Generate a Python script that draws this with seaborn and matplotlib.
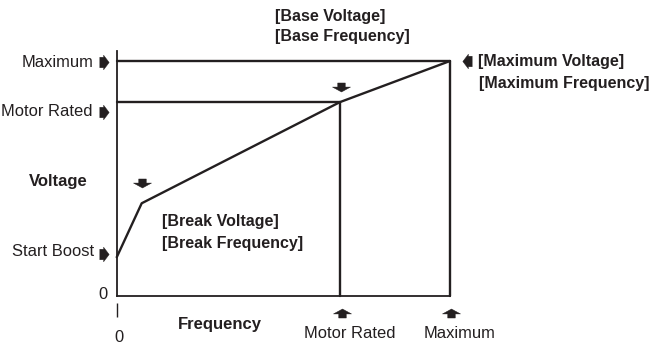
import matplotlib
matplotlib.use("Agg")
import matplotlib.pyplot as plt
from matplotlib import font_manager
from matplotlib.path import Path
from matplotlib.transforms import offset_copy
import pandas as pd
import seaborn as sns

# Volts-per-hertz profile, expressed in percent of the maximum settings
frequency = [0.0, 7.5, 67.0, 100.0]        # start, break, base (motor rated), maximum
voltage = [16.4, 39.4, 82.5, 100.0]        # start boost, break, base (motor rated), maximum
rated_freq, max_freq = frequency[2], frequency[3]
rated_volt, max_volt = voltage[2], voltage[3]
start_boost, break_freq, break_volt = voltage[0], frequency[1], voltage[1]

volt_labels = ["Maximum", "Motor Rated", "Start Boost", "0"]
freq_labels = ["0", "Motor Rated", "Maximum"]
base_text = ["[Base Voltage]", "[Base Frequency]"]
break_text = ["[Break Voltage]", "[Break Frequency]"]
max_text = ["[Maximum Voltage]", "[Maximum Frequency]"]

INK = "#231f20"

sns.set_style("white")
installed = {f.name for f in font_manager.fontManager.ttflist}
if "Liberation Sans Narrow" in installed:
    label_family, label_size, note_size = "Liberation Sans Narrow", 13.4, 13.3
else:
    label_family, label_size, note_size = "Liberation Sans", 11.9, 11.5
plt.rcParams["font.family"] = ["Liberation Sans", "DejaVu Sans"]

fig = plt.figure(figsize=(6.55, 3.44), dpi=100)
ax = fig.add_axes([0.1782, 0.1404, 0.5084, 0.7113])

profile = pd.DataFrame({"Frequency": frequency, "Voltage": voltage})
sns.lineplot(data=profile, x="Frequency", y="Voltage", ax=ax, color=INK,
             lw=1.7, sort=False, clip_on=False)

# reference lines for the rated and maximum settings
ax.plot([0, max_freq], [max_volt, max_volt], color=INK, lw=1.7, clip_on=False)
ax.plot([0, rated_freq], [rated_volt, rated_volt], color=INK, lw=1.7, clip_on=False)
ax.plot([rated_freq, rated_freq], [0, rated_volt], color=INK, lw=1.7, clip_on=False)
ax.plot([max_freq, max_freq], [0, max_volt], color=INK, lw=1.7, clip_on=False)

ax.set_xlim(0, 100)
ax.set_ylim(0, 104.3)
ax.set_xticks([])
ax.set_yticks([])
for side in ("top", "right"):
    ax.spines[side].set_visible(False)
for side in ("left", "bottom"):
    ax.spines[side].set_color(INK)
    ax.spines[side].set_linewidth(1.3)

ax.set_ylabel("Voltage", rotation=0, fontsize=12, fontweight="bold", color=INK,
              ha="center", va="center")
ax.yaxis.set_label_coords(-0.176, 0.465)
ax.set_xlabel("Frequency", fontsize=12, fontweight="bold", color=INK,
              ha="center", va="center")
ax.xaxis.set_label_coords(0.310, -0.118)

# block arrow marker shapes
def arrow_path(direction):
    pts = {
        "right": [(-0.64, 0.72), (-0.12, 0.72), (-0.12, 1.0), (0.64, 0.0),
                  (-0.12, -1.0), (-0.12, -0.72), (-0.64, -0.72)],
        "down": [(-0.42, 0.5), (0.42, 0.5), (0.42, 0.05), (1.0, 0.05),
                 (0.0, -0.5), (-1.0, 0.05), (-0.42, 0.05)],
    }
    if direction in pts:
        v = pts[direction]
    elif direction == "left":
        v = [(-x, y) for x, y in pts["right"]]
    else:
        v = [(x, -y) for x, y in pts["down"]]
    v = v + [v[0]]
    codes = [Path.MOVETO] + [Path.LINETO] * (len(v) - 2) + [Path.CLOSEPOLY]
    return Path(v, codes)

def arrow(x, y, trans, dx, dy, direction, size):
    t = offset_copy(trans, fig=fig, x=dx, y=dy, units="dots")
    ax.plot([x], [y], marker=arrow_path(direction), ms=size, color=INK,
            mew=0.3, mec=INK, transform=t, clip_on=False)

def label(text, x, y, trans, dx, dy, size, ha, weight="normal", family=None):
    ax.annotate(text, xy=(x, y), xycoords=trans, xytext=(dx, dy),
                textcoords="offset pixels", ha=ha, va="center",
                fontsize=size, fontweight=weight, color=INK,
                family=family or label_family, annotation_clip=False)

ytrans = ax.get_yaxis_transform()
xtrans = ax.get_xaxis_transform()

# voltage levels along the left edge
volt_levels = [max_volt, rated_volt, start_boost]
volt_text_dy = [-1, -9, 5.6]
volt_arrow_dy = [-1, -10, 3.3]
volt_text_dx = [-23.7, -24.7, -22.7]
for name, lvl, tdx, tdy, ady in zip(volt_labels[:3], volt_levels, volt_text_dx,
                                    volt_text_dy, volt_arrow_dy):
    label(name, 0, lvl, ytrans, tdx, tdy, label_size, "right")
    arrow(0, lvl, ytrans, -12.7, ady, "right", 10.5)
label(volt_labels[3], 0, 0, ytrans, -9.7, 1.7, label_size, "right")

# frequency levels along the bottom edge
label(freq_labels[0], 0, 0, xtrans, 2.3, -41.3, label_size, "center")
ax.plot([0], [0], marker="|", ms=9.5, mew=1.0, color=INK, clip_on=False,
        transform=offset_copy(xtrans, fig=fig, x=0, y=-13.8, units="dots"))
for name, f, adx in zip(freq_labels[1:], [rated_freq, max_freq], [2.5, 1.3]):
    label(name, f, 0, xtrans, 10, -37.3, label_size, "center")
    arrow(f, 0, xtrans, adx, -17.3, "up", 13)

# parameter callouts
arrow(break_freq, break_volt, ax.transData, 0, 20, "down", 13)
arrow(rated_freq, rated_volt, ax.transData, 1, 15, "down", 13)
arrow(max_freq, max_volt, ax.transData, 17, 0, "left", 10.5)

for line, dy in zip(base_text, [85.5, 65.5]):
    label(line, rated_freq, rated_volt, ax.transData, -65, dy, note_size, "left", "bold")
for line, dy in zip(break_text, [-18.2, -40.2]):
    label(line, break_freq, break_volt, ax.transData, 20, dy, note_size, "left", "bold")
for line, dx, dy in zip(max_text, [28, 29.3], [-0.5, -22.5]):
    label(line, max_freq, max_volt, ax.transData, dx, dy, note_size, "left", "bold")

fig.savefig("out.png", dpi=100)
